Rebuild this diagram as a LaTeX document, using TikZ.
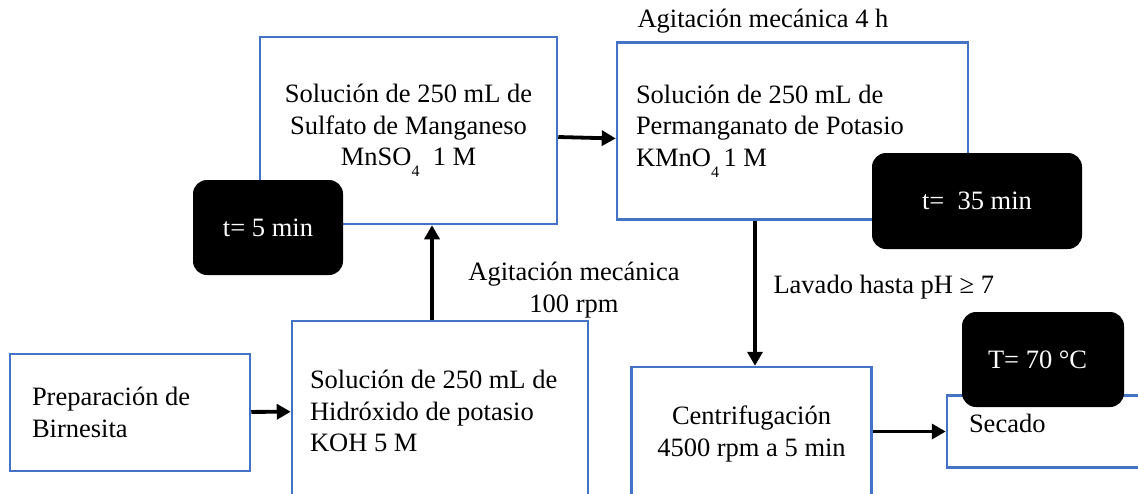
\documentclass[tikz,border=0pt]{standalone}
\usepackage{fontspec}
\setmainfont{Liberation Serif}
\usetikzlibrary{arrows.meta}
\definecolor{boxblue}{HTML}{4472C4}
\newcommand{\molsub}[1]{\raisebox{-0.42em}{\fontsize{16}{16}\selectfont #1}}

\begin{document}
\begin{tikzpicture}[x=1pt,y=-1pt,font=\fontsize{26.5}{31.5}\selectfont]
\useasboundingbox (0,0) rectangle (1138,493);

\begin{scope}[every node/.style={draw=boxblue,line width=2.5pt}]
    \node (mnso)[minimum width=297pt,minimum height=187pt,align=center] at (408.5,130.5) {Solución de 250 mL de\\Sulfato de Manganeso\\MnSO\molsub{4}\ \ 1 M};
    \node (kmno)[minimum height=177pt,text width=313pt,inner xsep=19pt,align=flush left] at (792.5,131) {Solución de 250 mL de\\Permanganato de Potasio\\KMnO\molsub{4}\,1 M};
    \node (birn)[minimum height=117pt,text width=196pt,inner xsep=22pt,align=flush left] at (130,412.5) {Preparación de\\Birnesita};
    \node (koh)[minimum height=180pt,text width=260pt,inner xsep=18pt,align=flush left] at (440,411) {Solución de 250 mL de\\Hidróxido de potasio\\KOH 5 M};
    \node (cent)[minimum width=240pt,minimum height=134pt,align=center] at (751.5,434) {Centrifugación\\4500 rpm a 5 min};
    \node (seca)[minimum height=72pt,text width=169pt,inner xsep=22pt,text depth=16pt,align=flush left] at (1053.5,431.5) {Secado};
\end{scope}

\node (ag4)[anchor=west] at (634,21) {Agitación mecánica 4 h};
\node (ag100)[align=center] at (574,290) {Agitación mecánica\\100 rpm};
\node (lav)[anchor=west] at (770,287) {Lavado hasta pH ≥ 7};

\begin{scope}[every edge/.style={draw=black,line width=3.8pt,-{Triangle[length=14pt,width=15pt]}}]
    \path (birn) edge (koh);
    \path ([xshift=-8pt]koh.north) edge ([xshift=-8pt]koh.north |- mnso.south);
    \path ([yshift=-6.5pt]mnso.east) edge ([yshift=-7.5pt]kmno.west);
    \path ([xshift=-37.5pt]kmno.south) edge ([xshift=-37.5pt]kmno.south |- cent.north);
    \path (cent.east |- seca.west) edge (seca.west);
\end{scope}

\begin{scope}[every node/.style={fill=black,text=white,rounded corners=14pt}]
    \node (t5)[minimum width=150pt,minimum height=95pt] at (268,227.5) {t= 5 min};
    \node (t35)[minimum width=210pt,minimum height=96pt] at (977,201) {t=\ \ 35 min};
    \node (t70)[minimum height=95pt,text width=110pt,inner xsep=26pt,align=flush left] at (1043,359.5) {T= 70 °C};
\end{scope}
\end{tikzpicture}
\end{document}
